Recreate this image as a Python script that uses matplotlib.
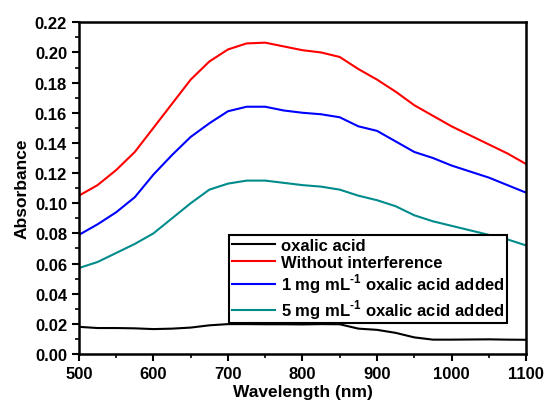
import matplotlib
matplotlib.use("Agg")
import matplotlib.pyplot as plt
from matplotlib.ticker import MultipleLocator, FormatStrFormatter

# values, every 25 nm
wavelength = [500, 525, 550, 575, 600, 625, 650, 675, 700, 725, 750, 775, 800,
              825, 850, 875, 900, 925, 950, 975, 1000, 1025, 1050, 1075, 1100]

oxalic_acid = [0.0180, 0.0172, 0.0172, 0.0170, 0.0165, 0.0168, 0.0175, 0.0190, 0.0198,
               0.0198, 0.0197, 0.0197, 0.0196, 0.0198, 0.0197, 0.0168, 0.0160, 0.0140,
               0.0110, 0.0095, 0.0095, 0.0096, 0.0097, 0.0095, 0.0094]
without_interference = [0.105, 0.112, 0.122, 0.134, 0.150, 0.166, 0.182, 0.194, 0.202,
                        0.206, 0.2065, 0.204, 0.2015, 0.200, 0.197, 0.189, 0.182, 0.174,
                        0.165, 0.158, 0.151, 0.145, 0.139, 0.133, 0.126]
added_1mg = [0.079, 0.086, 0.094, 0.104, 0.119, 0.132, 0.144, 0.153, 0.161,
             0.164, 0.164, 0.1615, 0.160, 0.159, 0.157, 0.151, 0.148, 0.141,
             0.134, 0.130, 0.125, 0.121, 0.117, 0.112, 0.107]
added_5mg = [0.057, 0.061, 0.067, 0.073, 0.080, 0.090, 0.100, 0.109, 0.113,
             0.115, 0.115, 0.1135, 0.112, 0.111, 0.109, 0.105, 0.102, 0.098,
             0.092, 0.088, 0.085, 0.082, 0.079, 0.076, 0.072]

plt.rcParams["font.family"] = ["Liberation Sans", "DejaVu Sans"]
plt.rcParams["font.weight"] = "bold"
plt.rcParams["mathtext.fontset"] = "custom"
plt.rcParams["mathtext.rm"] = "Liberation Sans:bold"
plt.rcParams["mathtext.bf"] = "Liberation Sans:bold"

fig = plt.figure(figsize=(5.48, 4.02), dpi=100)
ax = fig.add_axes([0.144, 0.117, 0.816, 0.825])

ax.plot(wavelength, oxalic_acid, color="black", lw=1.5, label="oxalic acid")
ax.plot(wavelength, without_interference, color="#ff0000", lw=1.5, label="Without interference")
ax.plot(wavelength, added_1mg, color="#0000ff", lw=1.5, label=r"1 mg mL$^{\text{-1}}$ oxalic acid added")
ax.plot(wavelength, added_5mg, color="#008b8b", lw=1.5, label=r"5 mg mL$^{\text{-1}}$ oxalic acid added")

ax.set_xlim(500, 1100)
ax.set_ylim(0, 0.22)
ax.xaxis.set_major_locator(MultipleLocator(100))
ax.xaxis.set_minor_locator(MultipleLocator(50))
ax.yaxis.set_major_locator(MultipleLocator(0.02))
ax.yaxis.set_minor_locator(MultipleLocator(0.01))
ax.yaxis.set_major_formatter(FormatStrFormatter("%.2f"))

ax.tick_params(which="major", direction="out", length=5, width=1.5, labelsize=12)
ax.tick_params(which="minor", direction="out", length=3, width=1.2)
for s in ax.spines.values():
    s.set_linewidth(1.8)

ax.set_xlabel("Wavelength (nm)", fontsize=12.5, fontweight="bold", labelpad=2)
ax.set_ylabel("Absorbance", fontsize=12.5, fontweight="bold", labelpad=4)

leg = ax.legend(loc="upper right", bbox_to_anchor=(0.957, 0.358), fontsize=12,
                frameon=True, fancybox=False, edgecolor="black", framealpha=1,
                borderpad=0.15, labelspacing=0.12, handlelength=2.6,
                handletextpad=0.35, borderaxespad=0)
leg.get_frame().set_linewidth(1.5)

fig.savefig("out.png", dpi=100)
